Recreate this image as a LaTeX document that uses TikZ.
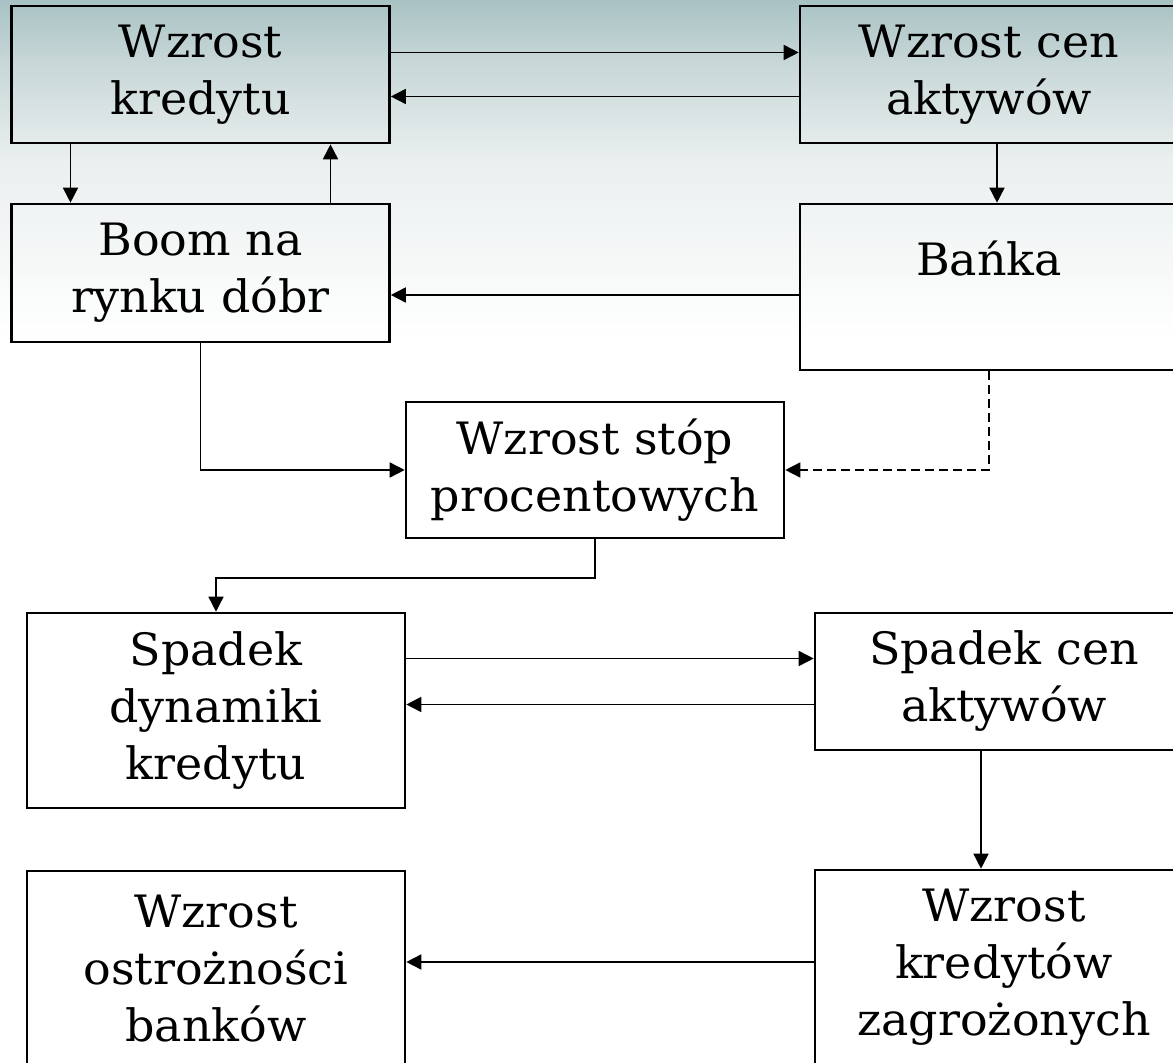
\documentclass[tikz,border=0pt]{standalone}
\usepackage{fontspec}
\setmainfont{DejaVu Serif}[FakeStretch=1.03]
\usepackage{tikz}
\usetikzlibrary{arrows.meta}
\definecolor{tlogora}{RGB}{168,194,195}
\definecolor{tlosrodek}{RGB}{199,214,215}
\definecolor{tlodol}{RGB}{234,239,239}
\tikzset{
blok/.style={draw, line width=1.3pt, align=center, minimum width=189pt,
  inner sep=0pt, font=\fontsize{22.3}{28.5}\selectfont},
strz/.style={-{Triangle[length=7.5pt,width=7.5pt]}, line width=0.8pt}
}

\begin{document}
\begin{tikzpicture}[x=0.5pt,y=-0.5pt]

            \useasboundingbox (0,0) rectangle (1173,1063);
            \clip (0,0) rectangle (1173,1063);
            \fill[white] (0,0) rectangle (1173,1063);
            \shade[top color=tlogora, bottom color=tlosrodek] (0,0) rectangle (1173,60);
            \shade[top color=tlosrodek, bottom color=tlodol] (0,60) rectangle (1173,160);
            \shade[top color=tlodol, bottom color=white] (0,160) rectangle (1173,340);
            \node[blok, minimum height=68.5pt] (kredyt) at (200.5,74.5) {Wzrost\\kredytu};
            \node[blok, minimum height=68.5pt] (ceny) at (989,74.5) {Wzrost cen\\aktywów};
            \node[blok, minimum height=69pt] (boom) at (200.5,273) {Boom na\\rynku dóbr};
            \node[blok, minimum height=83pt] (banka) at (989,287) {Bańka\\\mbox{}};
            \node[blok, minimum height=68pt] (stopy) at (595,470) {Wzrost stóp\\procentowych};
            \node[blok, minimum height=97.5pt] (spadek) at (216,710.5) {Spadek\\dynamiki\\kredytu};
            \node[blok, minimum height=68.5pt] (spadekcen) at (1004,681.5) {Spadek cen\\aktywów};
            \node[blok, minimum height=97.5pt] (zagrozone) at (1004,967.5) {Wzrost\\kredytów\\zagrożonych};
            \node[blok, minimum height=97.5pt] (ostroznosc) at (216,968.5) {Wzrost\\ostrożności\\banków};
            \draw[strz] ([yshift=11pt]kredyt.east) -- ([yshift=11pt]ceny.west);
            \draw[strz] ([yshift=-11pt]ceny.west) -- ([yshift=-11pt]kredyt.east);
            \draw[strz] ([xshift=-65pt]kredyt.south) -- ([xshift=-65pt]boom.north);
            \draw[strz] ([xshift=65pt]boom.north) -- ([xshift=65pt]kredyt.south);
            \draw[strz] ([xshift=4pt]ceny.south) -- ([xshift=4pt]banka.north);
            \draw[strz] ([yshift=-4pt]banka.west) -- ([yshift=-4pt]banka.west -| boom.east);
            \draw[strz] (boom.south) |- (stopy.west);
            \draw[strz, dash pattern=on 4.5pt off 2.5pt] (banka.south) |- (stopy.east);
            \draw[strz] (stopy.south) -- ++(0,39) -| (spadek.north);
            \draw[strz] ([yshift=11.5pt]spadekcen.west -| spadek.east) -- ([yshift=11.5pt]spadekcen.west);
            \draw[strz] ([yshift=-11.5pt]spadekcen.west) -- ([yshift=-11.5pt]spadekcen.west -| spadek.east);
            \draw[strz] ([xshift=-11.5pt]spadekcen.south) -- ([xshift=-11.5pt]zagrozone.north);
            \draw[strz] ([yshift=2.75pt]zagrozone.west) -- ([yshift=2.75pt]zagrozone.west -| ostroznosc.east);
        \end{tikzpicture}
\end{document}
